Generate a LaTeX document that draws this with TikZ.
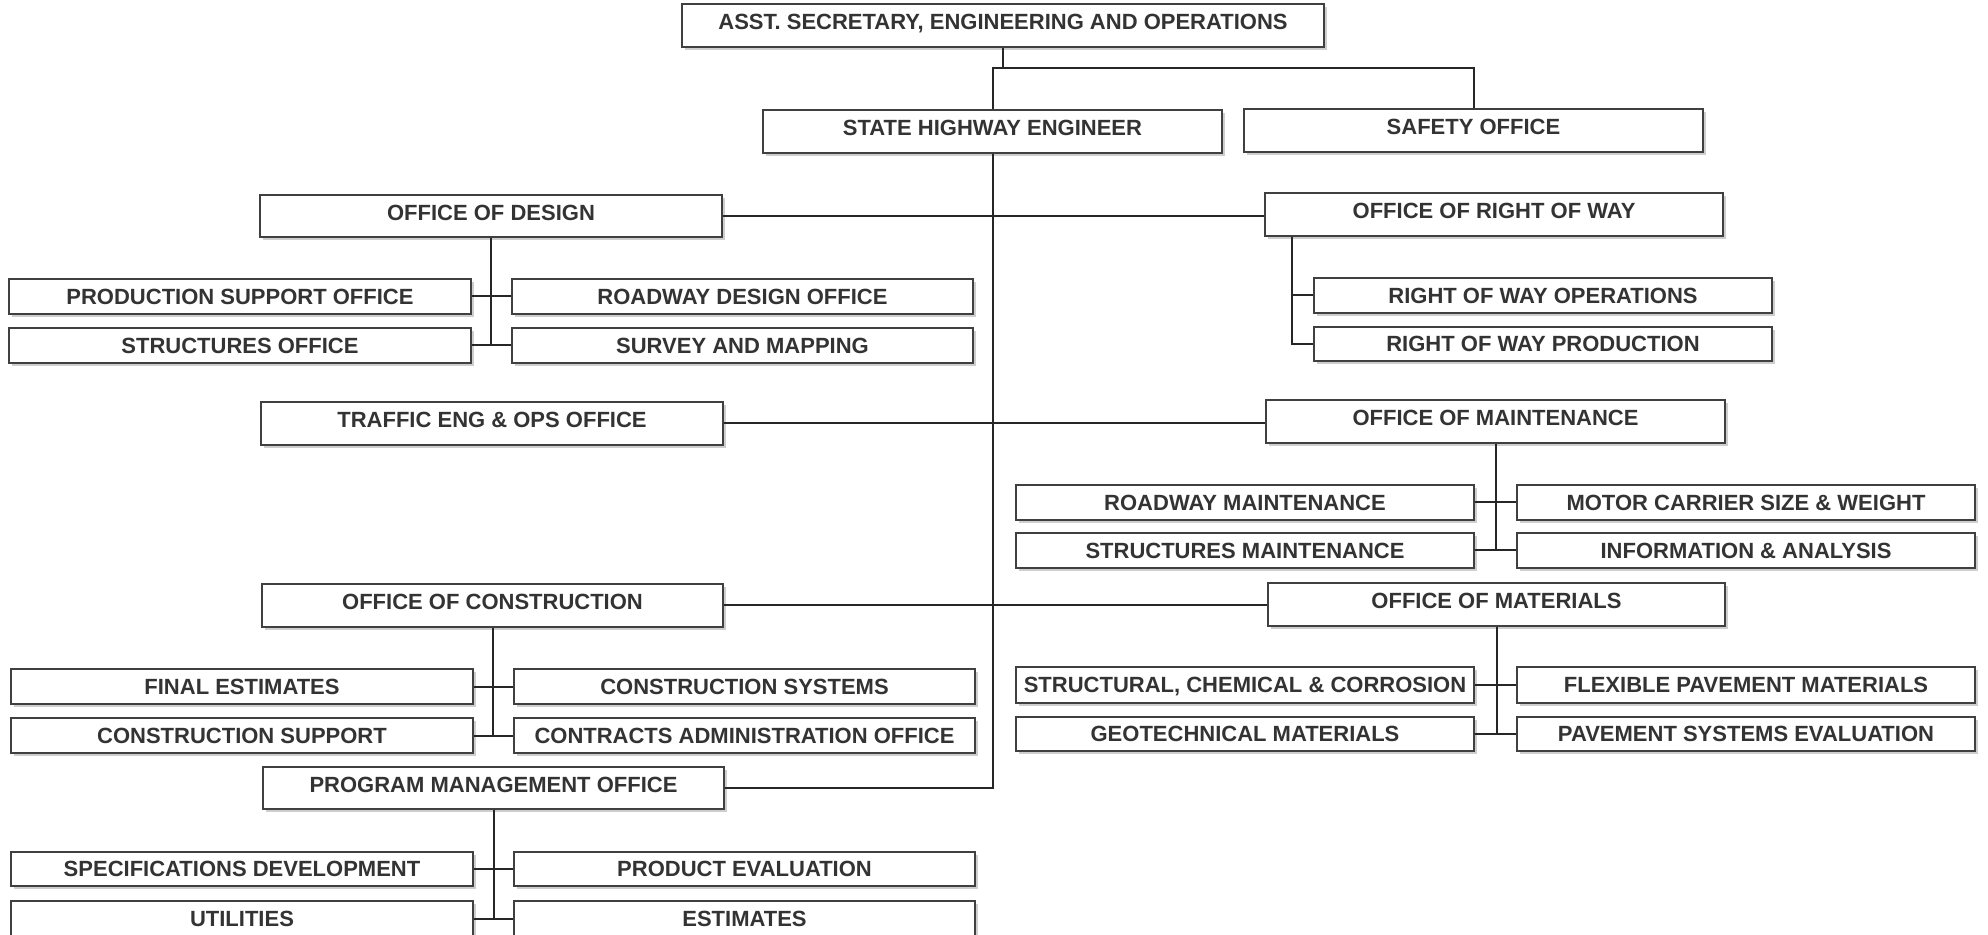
\documentclass[tikz,border=0pt]{standalone}
\usepackage{fontspec}
\setmainfont{Liberation Sans}
\usetikzlibrary{shadows}

\tikzset{
  box/.style={draw=black!75, line width=0.75pt, fill=white, text=black!80,
    font=\bfseries\fontsize{11}{13}\selectfont, inner sep=0pt,
    text height=7.9pt, text depth=0pt,
    drop shadow={shadow xshift=1.3pt, shadow yshift=-1.3pt, fill=black!35, opacity=0.55}},
  head/.style={box, text depth=3.5pt},
  link/.style={draw=black!85, line width=1pt}
}

% \orgbox[style]{name}{x1}{y1}{x2}{y2}{text}
\newcommand\orgbox[7][box]{%
  \node[#1, minimum width={(#5-#3)*0.5pt}, minimum height={(#6-#4)*0.5pt}]
    (#2) at ({(#3+#5)/2},{(#4+#6)/2}) {#7};}

\begin{document}
\begin{tikzpicture}[x=0.5pt, y=-0.5pt]
\fill[white] (0,0) rectangle (1988,935);
\useasboundingbox (0,0) rectangle (1988,935);

% top levels
\orgbox[head]{top}{682}{4}{1324}{47}{ASST. SECRETARY, ENGINEERING AND OPERATIONS}
\orgbox[head]{she}{763}{110}{1222}{153}{STATE HIGHWAY ENGINEER}
\orgbox[head]{safety}{1244}{109}{1703}{152}{SAFETY OFFICE}

% left column offices
\orgbox[head]{design}{260}{195}{722}{237}{OFFICE OF DESIGN}
\orgbox{psoff}{9}{279}{471}{314}{PRODUCTION SUPPORT OFFICE}
\orgbox{rdoff}{512}{279}{973}{314}{ROADWAY DESIGN OFFICE}
\orgbox{stoff}{9}{328}{471}{363}{STRUCTURES OFFICE}
\orgbox{survey}{512}{328}{973}{363}{SURVEY AND MAPPING}
\orgbox[head]{traffic}{261}{402}{723}{445}{TRAFFIC ENG \& OPS OFFICE}

\orgbox[head]{constr}{262}{584}{723}{627}{OFFICE OF CONSTRUCTION}
\orgbox{finest}{11}{669}{473}{704}{FINAL ESTIMATES}
\orgbox{csys}{514}{669}{975}{704}{CONSTRUCTION SYSTEMS}
\orgbox{csup}{11}{718}{473}{753}{CONSTRUCTION SUPPORT}
\orgbox{cadmin}{514}{718}{975}{753}{CONTRACTS ADMINISTRATION OFFICE}

\orgbox[head]{pmo}{263}{767}{724}{809}{PROGRAM MANAGEMENT OFFICE}
\orgbox{specs}{11}{852}{473}{886}{SPECIFICATIONS DEVELOPMENT}
\orgbox{prodeval}{514}{852}{975}{886}{PRODUCT EVALUATION}
\orgbox{util}{11}{901}{473}{936}{UTILITIES}
\orgbox{est}{514}{901}{975}{936}{ESTIMATES}

% right column offices
\orgbox[head]{row}{1265}{193}{1723}{236}{OFFICE OF RIGHT OF WAY}
\orgbox{rowops}{1314}{278}{1772}{313}{RIGHT OF WAY OPERATIONS}
\orgbox{rowprod}{1314}{327}{1772}{361}{RIGHT OF WAY PRODUCTION}

\orgbox[head]{maint}{1266}{400}{1725}{443}{OFFICE OF MAINTENANCE}
\orgbox{rdmaint}{1016}{485}{1474}{520}{ROADWAY MAINTENANCE}
\orgbox{motor}{1517}{485}{1975}{520}{MOTOR CARRIER SIZE \& WEIGHT}
\orgbox{stmaint}{1016}{533}{1474}{568}{STRUCTURES MAINTENANCE}
\orgbox{info}{1517}{533}{1975}{568}{INFORMATION \& ANALYSIS}

\orgbox[head]{mat}{1268}{583}{1725}{626}{OFFICE OF MATERIALS}
\orgbox{scc}{1016}{667}{1474}{703}{STRUCTURAL, CHEMICAL \& CORROSION}
\orgbox{flex}{1517}{667}{1975}{703}{FLEXIBLE PAVEMENT MATERIALS}
\orgbox{geo}{1016}{717}{1474}{751}{GEOTECHNICAL MATERIALS}
\orgbox{pse}{1517}{717}{1975}{751}{PAVEMENT SYSTEMS EVALUATION}

% connectors: top levels
\coordinate (j1) at (1003,68);
\draw[link] (top.south) -- (j1);
\draw[link] (she.north) -- (she.north |- j1) -| (safety.north);
\draw[link] (she.south) -- (she.south |- pmo.east) -- (pmo.east);

% cross links through the trunk
\draw[link] (design.east) -- (design.east -| row.west);
\draw[link] (traffic.east) -- (traffic.east -| maint.west);
\draw[link] (constr.east) -- (constr.east -| mat.west);

% design group
\draw[link] (design.south) -- (design.south |- stoff.east);
\draw[link] (psoff.east) -- (psoff.east -| rdoff.west);
\draw[link] (stoff.east) -- (stoff.east -| survey.west);

% construction group
\draw[link] (constr.south) -- (constr.south |- csup.east);
\draw[link] (finest.east) -- (finest.east -| csys.west);
\draw[link] (csup.east) -- (csup.east -| cadmin.west);

% program management group
\draw[link] (pmo.south) -- (pmo.south |- util.east);
\draw[link] (specs.east) -- (specs.east -| prodeval.west);
\draw[link] (util.east) -- (util.east -| est.west);

% right of way group
\coordinate (rowdrop) at ([xshift=14pt]row.south west);
\draw[link] (rowdrop) |- (rowops.west);
\draw[link] (rowdrop) |- (rowprod.west);

% maintenance group
\draw[link] (maint.south) -- (maint.south |- stmaint.east);
\draw[link] (rdmaint.east) -- (rdmaint.east -| motor.west);
\draw[link] (stmaint.east) -- (stmaint.east -| info.west);

% materials group
\draw[link] (mat.south) -- (mat.south |- geo.east);
\draw[link] (scc.east) -- (scc.east -| flex.west);
\draw[link] (geo.east) -- (geo.east -| pse.west);
\end{tikzpicture}
\end{document}
